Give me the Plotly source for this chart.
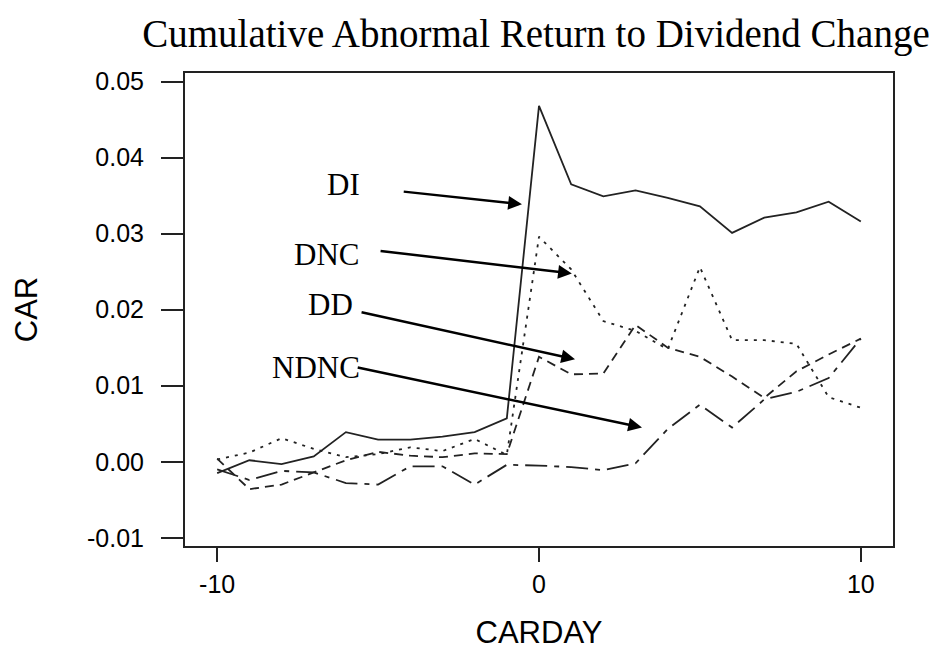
import plotly.graph_objects as go

# ---- data ----
days = list(range(-10, 11))
di = [-0.0015, 0.0002, -0.0003, 0.0007, 0.0039, 0.0029, 0.0029, 0.0033, 0.0039, 0.0057,
      0.0468, 0.0365, 0.0349, 0.0357, 0.0347, 0.0336, 0.0301, 0.0321, 0.0328, 0.0342, 0.0316]
dnc = [0.0003, 0.0012, 0.0031, 0.0017, 0.0006, 0.0010, 0.0019, 0.0014, 0.0030, 0.0009,
       0.0296, 0.0253, 0.0185, 0.0172, 0.0148, 0.0256, 0.0160, 0.0160, 0.0155, 0.0085, 0.0071]
dd = [0.0004, -0.0036, -0.0030, -0.0014, 0.0002, 0.0013, 0.0008, 0.0006, 0.0011, 0.0010,
      0.0138, 0.0115, 0.0116, 0.0180, 0.0150, 0.0138, 0.0112, 0.0084, 0.0119, 0.0141, 0.0162]
ndnc = [-0.0010, -0.0024, -0.0012, -0.0014, -0.0028, -0.0030, -0.0006, -0.0006, -0.0030, -0.0004,
        -0.0005, -0.0007, -0.0011, -0.0002, 0.0043, 0.0075, 0.0045, 0.0082, 0.0092, 0.0110, 0.0162]

series_names = ["DI", "DNC", "DD", "NDNC"]
x_tickvals = [-10, 0, 10]
x_ticktext = ["-10", "0", "10"]
y_tickvals = [-0.01, 0.0, 0.01, 0.02, 0.03, 0.04, 0.05]
y_ticktext = ["-0.01", "0.00", "0.01", "0.02", "0.03", "0.04", "0.05"]

title_text = "Cumulative Abnormal Return to Dividend Change"
x_title = "CARDAY"
y_title = "CAR"

styles = {
    "DI": "solid",
    "DNC": "3px,6px",
    "DD": "9px,6px",
    "NDNC": "22px,7px,5px,7px",
}

fig = go.Figure()
for name, vals in zip(series_names, [di, dnc, dd, ndnc]):
    fig.add_trace(go.Scatter(
        x=days, y=vals, mode="lines", name=name,
        line=dict(color="#222222", width=1.8, dash=styles[name]),
        showlegend=False,
    ))

serif = "Liberation Serif, Times New Roman, serif"
sans = "Liberation Sans, Arial, sans-serif"

# label texts
labels = [
    ("DI", -6.09, 0.03645),
    ("DNC", -6.61, 0.02723),
    ("DD", -6.49, 0.02074),
    ("NDNC", -6.93, 0.01243),
]
for txt, lx, ly in labels:
    fig.add_annotation(x=lx, y=ly, xref="x", yref="y", text=txt, showarrow=False,
                       font=dict(family=serif, size=31, color="black"),
                       xanchor="center", yanchor="middle")

# arrows (tail -> tip)
arrows = [
    (-4.25, 0.03555, -0.53, 0.03386),
    (-4.97, 0.02775, 1.02, 0.02477),
    (-5.56, 0.0197, 1.12, 0.01347),
    (-5.68, 0.01243, 3.20, 0.00451),
]
for ax_, ay_, tx, ty in arrows:
    fig.add_annotation(x=tx, y=ty, ax=ax_, ay=ay_, xref="x", yref="y",
                       axref="x", ayref="y", text="", showarrow=True,
                       arrowhead=2, arrowsize=1.1, arrowwidth=2.5,
                       arrowcolor="black", standoff=0, startstandoff=0)

fig.update_layout(
    width=932, height=656,
    margin=dict(l=185, r=39, t=73, b=104),
    paper_bgcolor="white", plot_bgcolor="white",
    title=dict(text=title_text, x=536 / 932, xref="container", y=1 - 33 / 656,
               yref="container", xanchor="center", yanchor="middle",
               font=dict(family=serif, size=39, color="black")),
    font=dict(family=sans, color="black"),
)
fig.update_xaxes(
    range=[-11, 11], tickmode="array", tickvals=x_tickvals, ticktext=x_ticktext,
    ticks="outside", ticklen=14, tickwidth=2, tickcolor="#222",
    showline=True, linecolor="#222", linewidth=2, mirror=True,
    showgrid=False, zeroline=False,
    tickfont=dict(family=sans, size=25, color="black"),
    ticklabelstandoff=1,
    title=dict(text=x_title, font=dict(family=sans, size=31, color="black"), standoff=24),
)
fig.update_yaxes(
    range=[-0.01108, 0.05113], tickmode="array", tickvals=y_tickvals, ticktext=y_ticktext,
    ticks="outside", ticklen=22, tickwidth=2, tickcolor="#222",
    showline=True, linecolor="#222", linewidth=2, mirror=True,
    showgrid=False, zeroline=False,
    tickfont=dict(family=sans, size=25, color="black"),
    ticklabelstandoff=12,
    title=dict(text=y_title, font=dict(family=sans, size=31, color="black"), standoff=40),
)

fig.write_html("out.html", config={"displayModeBar": False},
               post_script="document.body.style.margin='0';")
